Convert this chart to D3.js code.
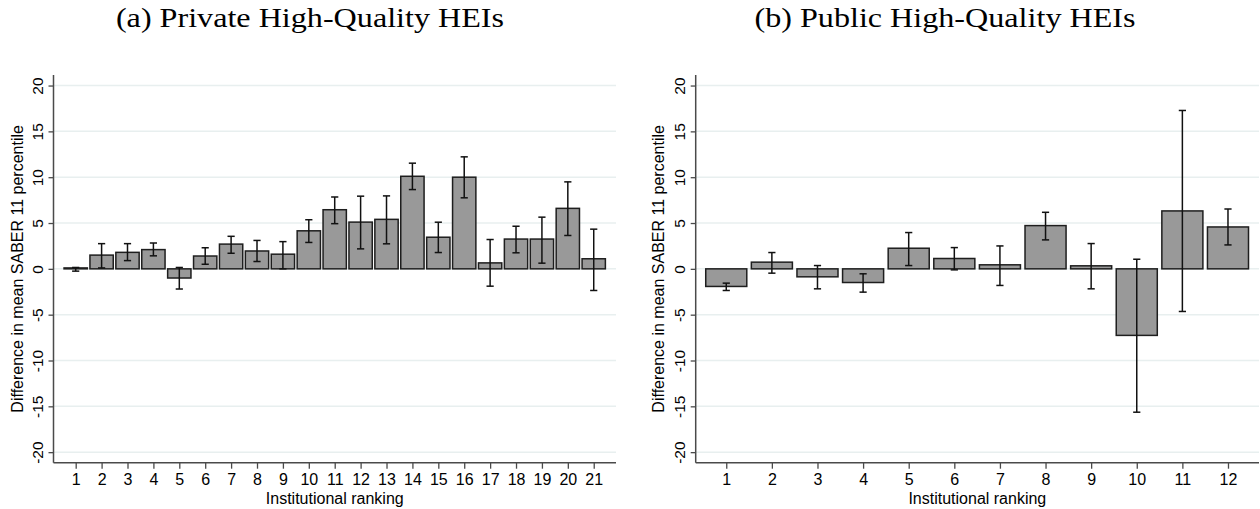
<!DOCTYPE html>
<html>
<head>
<meta charset="utf-8">
<script src="https://cdn.jsdelivr.net/npm/d3@7"></script>
<style>
  html, body { margin: 0; padding: 0; background: #fff; }
  svg { display: block; }
</style>
</head>
<body>
<svg id="chart" width="1260" height="509"></svg>
<script>
// Panel (a): private high-quality HEIs, ranks 1..21
const privateRanks = d3.range(1, 22);
const privateMean  = [0.1, 1.5, 1.8, 2.1, -1.0, 1.4, 2.7, 1.95, 1.6, 4.15, 6.45, 5.1, 5.4, 10.1, 3.45, 10.0, 0.65, 3.25, 3.25, 6.6, 1.1];
const privateLow   = [-0.25, 0.1, 0.9, 1.42, -2.2, 0.5, 1.7, 0.8, 0.0, 2.88, 4.93, 2.18, 2.73, 8.65, 1.78, 7.75, -1.89, 1.75, 0.62, 3.64, -2.36];
const privateHigh  = [0.15, 2.75, 2.75, 2.82, 0.15, 2.3, 3.55, 3.1, 2.97, 5.36, 7.84, 7.93, 7.96, 11.53, 5.09, 12.22, 3.2, 4.65, 5.64, 9.49, 4.33];

// Panel (b): public high-quality HEIs, ranks 1..12
const publicRanks = d3.range(1, 13);
const publicMean  = [-1.92, 0.73, -0.87, -1.49, 2.25, 1.13, 0.44, 4.72, 0.33, -7.26, 6.32, 4.57];
const publicLow   = [-2.36, -0.47, -2.18, -2.54, 0.36, -0.11, -1.81, 3.16, -2.18, -15.64, -4.65, 2.61];
const publicHigh  = [-1.56, 1.78, 0.36, -0.54, 3.96, 2.32, 2.5, 6.17, 2.76, 1.05, 17.28, 6.53];

const yTicks = [-20, -15, -10, -5, 0, 5, 10, 15, 20];
const yTickLabels = ["-20", "-15", "-10", "-5", "0", "5", "10", "15", "20"];
const yTitle = "Difference in mean SABER 11 percentile";
const xTitle = "Institutional ranking";
const panelTitles = ["(a) Private High-Quality HEIs", "(b) Public High-Quality HEIs"];

const svg = d3.select("#chart");
const sansFont = "'Liberation Sans', Arial, Helvetica, sans-serif";
const serifFont = "'Liberation Serif', 'Times New Roman', serif";

const panels = [
  { title: panelTitles[0], ranks: privateRanks, mean: privateMean, low: privateLow, high: privateHigh,
    x0: 53.5, x1: 616, xDomain: [0.143, 21.86], titleX: 310, yLabelX: 17, tickLabelX: 37 },
  { title: panelTitles[1], ranks: publicRanks, mean: publicMean, low: publicLow, high: publicHigh,
    x0: 695.7, x1: 1259, xDomain: [0.33, 12.68], titleX: 945, yLabelX: 658, tickLabelX: 679 }
];

const yTop = 75, yBottom = 462.7;
const y = d3.scaleLinear().domain([-21.15, 21.15]).range([yBottom, yTop]);

// serif titles are drawn a little wider than the installed font's natural width
const titleStretch = 1.19;

panels.forEach(p => {
  const g = svg.append("g");
  const x = d3.scaleLinear().domain(p.xDomain).range([p.x0, p.x1]);
  const barW = x(0.9) - x(0);
  const data = p.ranks.map((r, i) => ({ r, v: p.mean[i], lo: p.low[i], hi: p.high[i] }));

  // panel title
  const t = g.append("text")
    .attr("x", p.titleX).attr("y", 27)
    .attr("text-anchor", "middle")
    .attr("font-family", serifFont)
    .attr("font-size", 27)
    .attr("fill", "#000")
    .text(p.title);
  const natural = t.node().getComputedTextLength();
  t.attr("textLength", natural * titleStretch).attr("lengthAdjust", "spacingAndGlyphs");

  // horizontal gridlines
  g.selectAll("line.grid").data(yTicks).enter().append("line")
    .attr("class", "grid")
    .attr("x1", p.x0).attr("x2", p.x1)
    .attr("y1", d => y(d)).attr("y2", d => y(d))
    .attr("stroke", "#e8efef").attr("stroke-width", 1.5);

  // bars
  g.selectAll("rect.bar").data(data).enter().append("rect")
    .attr("class", "bar")
    .attr("x", d => x(d.r) - barW / 2)
    .attr("width", barW)
    .attr("y", d => y(Math.max(0, d.v)))
    .attr("height", d => Math.abs(y(d.v) - y(0)))
    .attr("fill", "#999999")
    .attr("stroke", "#1e1e1e")
    .attr("stroke-width", 1.5);

  // confidence intervals
  const capW = 3.6;
  const eb = g.selectAll("g.eb").data(data).enter().append("g").attr("class", "eb")
    .attr("stroke", "#111").attr("stroke-width", 1.5);
  eb.append("line")
    .attr("x1", d => x(d.r)).attr("x2", d => x(d.r))
    .attr("y1", d => y(d.lo)).attr("y2", d => y(d.hi));
  eb.append("line")
    .attr("x1", d => x(d.r) - capW).attr("x2", d => x(d.r) + capW)
    .attr("y1", d => y(d.lo)).attr("y2", d => y(d.lo));
  eb.append("line")
    .attr("x1", d => x(d.r) - capW).attr("x2", d => x(d.r) + capW)
    .attr("y1", d => y(d.hi)).attr("y2", d => y(d.hi));

  // y axis
  const yAxis = d3.axisLeft(y).tickValues(yTicks).tickSize(5).tickPadding(0)
    .tickFormat((d, i) => yTickLabels[i]);
  const ya = g.append("g").attr("transform", `translate(${p.x0},0)`).call(yAxis);
  ya.select(".domain").attr("stroke", "#4a4a4a").attr("stroke-width", 1.5)
    .attr("d", `M0,${yTop}V${yBottom}`);
  ya.selectAll(".tick line").attr("stroke", "#4a4a4a").attr("stroke-width", 1.3);
  ya.selectAll(".tick text")
    .attr("x", 0).attr("dy", null)
    .attr("transform", `translate(${p.tickLabelX - p.x0},0) rotate(-90)`)
    .attr("text-anchor", "middle")
    .attr("dominant-baseline", "central")
    .attr("font-family", sansFont).attr("font-size", 15.5).attr("fill", "#000");

  // x axis
  const xAxis = d3.axisBottom(x).tickValues(p.ranks).tickSize(6).tickPadding(5).tickFormat(d3.format("d"));
  const xa = g.append("g").attr("transform", `translate(0,${yBottom})`).call(xAxis);
  xa.select(".domain").attr("stroke", "#4a4a4a").attr("stroke-width", 1.5)
    .attr("d", `M${p.x0},0H${p.x1}`);
  xa.selectAll(".tick line").attr("stroke", "#4a4a4a").attr("stroke-width", 1.3);
  xa.selectAll(".tick text")
    .attr("font-family", sansFont).attr("font-size", 16).attr("fill", "#000");

  // axis titles
  g.append("text")
    .attr("x", (p.x0 + p.x1) / 2).attr("y", 504)
    .attr("text-anchor", "middle")
    .attr("font-family", sansFont).attr("font-size", 16).attr("fill", "#000")
    .text(xTitle);
  g.append("text")
    .attr("transform", `translate(${p.yLabelX},${y(0)}) rotate(-90)`)
    .attr("text-anchor", "middle")
    .attr("dominant-baseline", "central")
    .attr("font-family", sansFont).attr("font-size", 16).attr("fill", "#000")
    .text(yTitle);
});
</script>
</body>
</html>
